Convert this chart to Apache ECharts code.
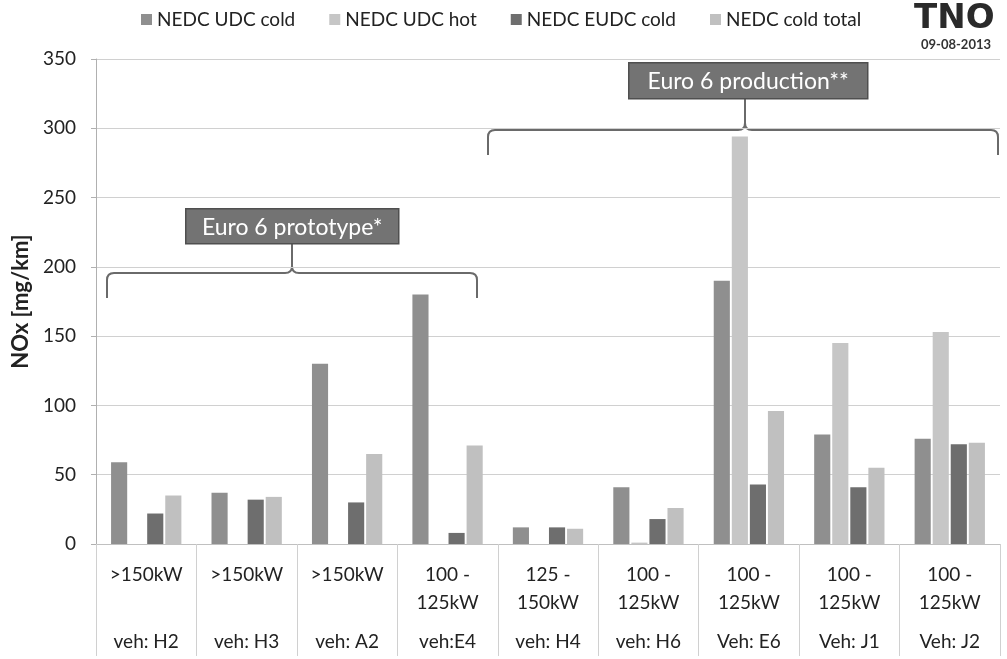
<!DOCTYPE html>
<html>
<head>
<meta charset="utf-8">
<script src="https://cdn.jsdelivr.net/npm/echarts@6/dist/echarts.min.js"></script>
<style>
  html, body { margin: 0; padding: 0; background: #fff; }
  #chart { width: 1007px; height: 659px; }
</style>
</head>
<body>
<div id="chart"></div>
<script>
// categories: power class + vehicle
var powers = ['>150kW', '>150kW', '>150kW', '100 -\n125kW', '125 -\n150kW', '100 -\n125kW', '100 -\n125kW', '100 -\n125kW', '100 -\n125kW'];
var vehicles = ['veh: H2', 'veh: H3', 'veh: A2', 'veh:E4', 'veh: H4', 'veh: H6', 'Veh: E6', 'Veh: J1', 'Veh: J2'];

// NOx [mg/km]
var udcCold   = [59, 37, 130, 180, 12, 41, 190, 79, 76];
var udcHot    = [0, 0, 0, 0, 0, 1, 294, 145, 153];
var eudcCold  = [22, 32, 30, 8, 12, 18, 43, 41, 72];
var coldTotal = [35, 34, 65, 71, 11, 26, 96, 55, 73];

var seriesNames = ['NEDC UDC cold', 'NEDC UDC hot', 'NEDC EUDC cold', 'NEDC cold total'];
var seriesColors = ['#8f8f8f', '#c6c6c6', '#6e6e6e', '#c0c0c0'];
var yTicks = [0, 350, 50];

var font = 'Lato, "Open Sans", sans-serif';

var categories = powers.map(function (p, i) { return String(i); });

var myChart = echarts.init(document.getElementById('chart'));

function bar(name, data, i) {
    return {
        name: name,
        type: 'bar',
        data: data,
        barGap: '12%',
        barCategoryGap: '30%',
        itemStyle: { color: seriesColors[i] }
    };
}

// curly brace made of lines and quadratic curves
function brace(x1, x2, xm, y, yTop, yEnd) {
    var r = 7;
    var st = { stroke: '#6a6a6a', lineWidth: 2, fill: null };
    function ln(ax, ay, bx, by) {
        return { type: 'line', shape: { x1: ax, y1: ay, x2: bx, y2: by }, style: st };
    }
    function cv(ax, ay, cx, cy, bx, by) {
        return { type: 'bezierCurve', shape: { x1: ax, y1: ay, cpx1: cx, cpy1: cy, x2: bx, y2: by }, style: st };
    }
    return [
        ln(x1, yEnd, x1, y + r),
        cv(x1, y + r, x1, y, x1 + r, y),
        ln(x1 + r, y, xm - r, y),
        cv(xm - r, y, xm, y, xm, y - r),
        ln(xm, y - r, xm, yTop),
        cv(xm, y - r, xm, y, xm + r, y),
        ln(xm + r, y, x2 - r, y),
        cv(x2 - r, y, x2, y, x2, y + r),
        ln(x2, y + r, x2, yEnd)
    ];
}

function labelBox(x, y, w, h, text) {
    return {
        type: 'group',
        left: x, top: y,
        children: [
            { type: 'rect', shape: { x: 0, y: 0, width: w, height: h },
              style: { fill: '#737373', stroke: '#4f4f4f', lineWidth: 1.5 } },
            { type: 'text', x: w / 2, y: h / 2 + 1,
              style: { text: text, fill: '#ffffff', font: '23px ' + font, textAlign: 'center', textVerticalAlign: 'middle' } }
        ]
    };
}

var option = {
    animation: false,
    textStyle: { fontFamily: font },
    legend: {
        data: seriesNames,
        left: 136,
        top: 5,
        itemWidth: 11,
        itemHeight: 11,
        itemGap: 34,
        icon: 'rect',
        textStyle: { fontSize: 19, color: '#222', fontFamily: font }
    },
    grid: { left: 96, right: 7, top: 59, bottom: 115 },
    xAxis: {
        type: 'category',
        data: categories,
        axisLine: { lineStyle: { color: '#c0c0c0' } },
        axisTick: { show: true, interval: 0, length: 112, lineStyle: { color: '#d0d0d0' } },
        axisLabel: {
            interval: 0,
            margin: 17,
            formatter: function (v) {
                var i = +v;
                var p = powers[i].split('\n');
                var top = '{p|' + p[0] + '}\n{p|' + (p[1] || ' ') + '}';
                return top + '\n{v|' + vehicles[i] + '}';
            },
            rich: {
                p: { fontSize: 19, lineHeight: 28, color: '#222', fontFamily: font },
                v: { fontSize: 19, lineHeight: 50, color: '#222', fontFamily: font }
            }
        }
    },
    yAxis: {
        type: 'value',
        min: yTicks[0],
        max: yTicks[1],
        interval: yTicks[2],
        name: 'NOx [mg/km]',
        nameLocation: 'middle',
        nameGap: 60,
        nameTextStyle: { fontSize: 22, fontWeight: 'bold', color: '#222', fontFamily: font },
        axisLine: { show: true, lineStyle: { color: '#b0b0b0' } },
        axisTick: { show: true, length: 5, lineStyle: { color: '#b0b0b0' } },
        axisLabel: { fontSize: 19, color: '#222', margin: 20 },
        splitLine: { lineStyle: { color: '#d0d0d0' } }
    },
    series: [
        bar(seriesNames[0], udcCold, 0),
        bar(seriesNames[1], udcHot, 1),
        bar(seriesNames[2], eudcCold, 2),
        bar(seriesNames[3], coldTotal, 3)
    ],
    graphic: [].concat(
        brace(107, 477, 292, 273, 243, 298),
        brace(488, 998, 745, 130, 98, 155),
        [
            labelBox(185, 208, 213, 35, 'Euro 6 prototype*'),
            labelBox(628, 62, 239, 36, 'Euro 6 production**'),
            { type: 'text', left: 914, top: 2,
              style: { text: 'TNO', fill: '#2a2a2a', font: '900 34px "DejaVu Sans", sans-serif' } },
            { type: 'text', left: 921, top: 38,
              style: { text: '09-08-2013', fill: '#333', font: 'bold 13px ' + font } }
        ]
    )
};

myChart.setOption(option);
</script>
</body>
</html>
